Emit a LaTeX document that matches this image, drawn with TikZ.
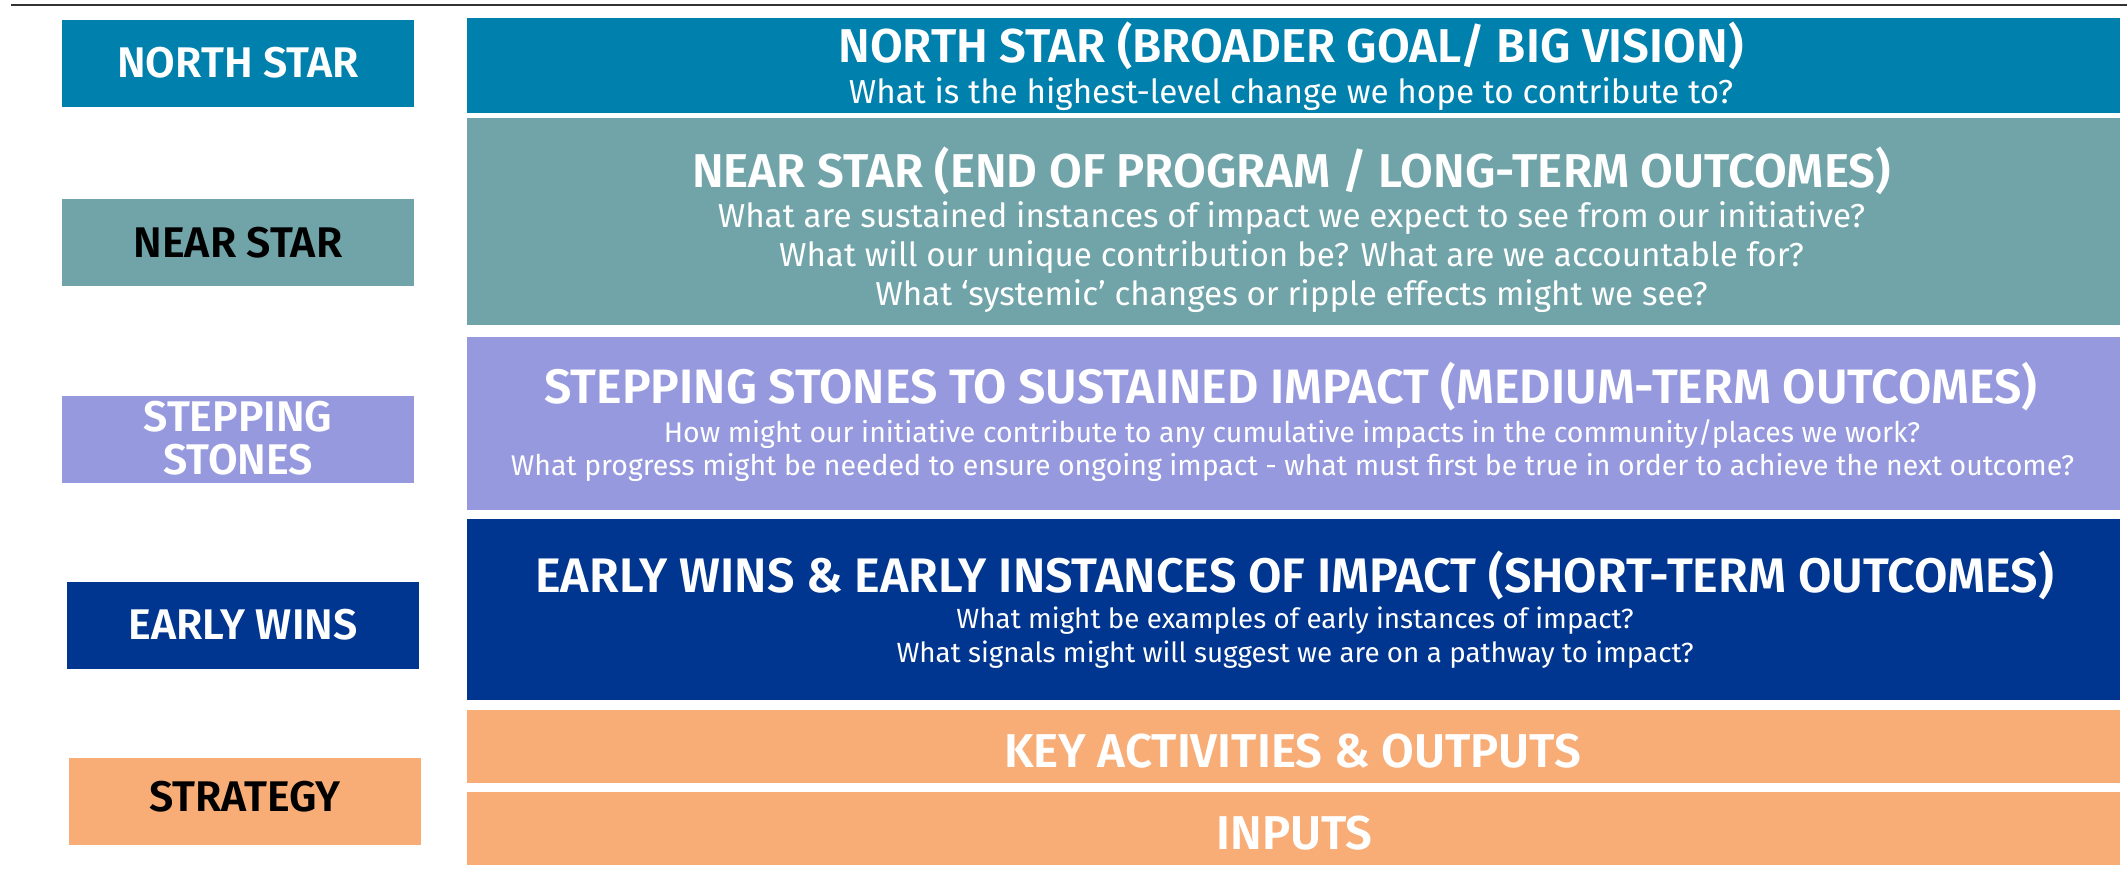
\documentclass[tikz,border=0pt]{standalone}
\usepackage{fontspec}
\setmainfont{Fira Sans}[BoldFont={Fira Sans SemiBold}]
\definecolor{northblue}{HTML}{0080AD}
\definecolor{neargreen}{HTML}{70A4A9}
\definecolor{steplilac}{HTML}{9699DE}
\definecolor{earlynavy}{HTML}{00368F}
\definecolor{stratpeach}{HTML}{F8AD77}
\tikzset{
  tag/.style={fill=#1, minimum width=3.52cm, minimum height=0.87cm, inner sep=0pt},
  band/.style={fill=#1, minimum width=16.53cm, inner sep=0pt},
  taglabel/.style={anchor=base, inner sep=0pt, font=\bfseries\fontsize{12.2}{14}\selectfont},
  head/.style={anchor=base, inner sep=0pt, text=white, font=\bfseries\fontsize{#1}{15}\selectfont},
  head/.default=13.5,
  ask/.style={anchor=base, inner sep=0pt, text=white, font=\fontsize{#1}{11}\selectfont},
  ask/.default=9.45
}
\begin{document}
\begin{tikzpicture}
             \useasboundingbox (0,0) rectangle (21.27,-8.68);
             \coordinate (rule west) at (0.11,-0.05);
             \coordinate (rule east) at (21.27,-0.05);
             \draw [line width=0.6pt, black!80] (rule west) -- (rule east);

             % left tags
             \node [tag=northblue] (north tag) at (2.38,-0.635) {};
             \node [tag=neargreen] (near tag) at (2.38,-2.425) {};
             \node [tag=steplilac] (stones tag) at (2.38,-4.395) {};
             \node [tag=earlynavy] (early tag) at (2.43,-6.255) {};
             \node [tag=stratpeach] (strategy tag) at (2.45,-8.015) {};

             \node [taglabel, text=white] (north tag text) at (2.38,-0.77) {NORTH STAR};
             \node [taglabel, text=black] (near tag text) at (2.38,-2.57) {NEAR STAR};
             \node [taglabel, text=white] (stones tag text a) at (2.38,-4.31) {STEPPING};
             \node [taglabel, text=white] (stones tag text b) at (2.38,-4.74) {STONES};
             \node [taglabel, text=white] (early tag text) at (2.43,-6.39) {EARLY WINS};
             \node [taglabel, text=black] (strategy tag text) at (2.45,-8.11) {STRATEGY};

             % right bands
             \node [band=northblue, minimum height=0.95cm] (north band) at (12.935,-0.655) {};
             \node [band=neargreen, minimum height=2.07cm] (near band) at (12.935,-2.215) {};
             \node [band=steplilac, minimum height=1.73cm] (stones band) at (12.935,-4.235) {};
             \node [band=earlynavy, minimum height=1.81cm] (early band) at (12.935,-6.095) {};
             \node [band=stratpeach, minimum height=0.73cm] (activities band) at (12.935,-7.465) {};
             \node [band=stratpeach, minimum height=0.73cm] (inputs band) at (12.935,-8.285) {};

             \node [head] (north head) at (12.91,-0.62) {NORTH STAR (BROADER GOAL/ BIG VISION)};
             \node [ask] (north ask) at (12.91,-1.03) {What is the highest-level change we hope to contribute to?};

             \node [head] (near head) at (12.915,-1.87) {NEAR STAR (END OF PROGRAM / LONG-TERM OUTCOMES)};
             \node [ask] (near ask a) at (12.915,-2.27) {What are sustained instances of impact we expect to see from our initiative?};
             \node [ask] (near ask b) at (12.915,-2.66) {What will our unique contribution be? What are we accountable for?};
             \node [ask] (near ask c) at (12.915,-3.05) {What ‘systemic’ changes or ripple effects might we see?};

             \node [head=13.75] (stones head) at (12.91,-4.03) {STEPPING STONES TO SUSTAINED IMPACT (MEDIUM-TERM OUTCOMES)};
             \node [ask=8.1] (stones ask a) at (12.92,-4.42) {How might our initiative contribute to any cumulative impacts in the community/places we work?};
             \node [ask=8.1] (stones ask b) at (12.925,-4.75) {What progress might be needed to ensure ongoing impact - what must first be true in order to achieve the next outcome?};

             \node [head=13.8] (early head) at (12.945,-5.92) {EARLY WINS \& EARLY INSTANCES OF IMPACT (SHORT-TERM OUTCOMES)};
             \node [ask=7.9] (early ask a) at (12.95,-6.28) {What might be examples of early instances of impact?};
             \node [ask=7.9] (early ask b) at (12.95,-6.62) {What signals might will suggest we are on a pathway to impact?};

             \node [head] (activities head) at (12.925,-7.67) {KEY ACTIVITIES \& OUTPUTS};
             \node [head] (inputs head) at (12.945,-8.49) {INPUTS};

         \end{tikzpicture}
\end{document}
